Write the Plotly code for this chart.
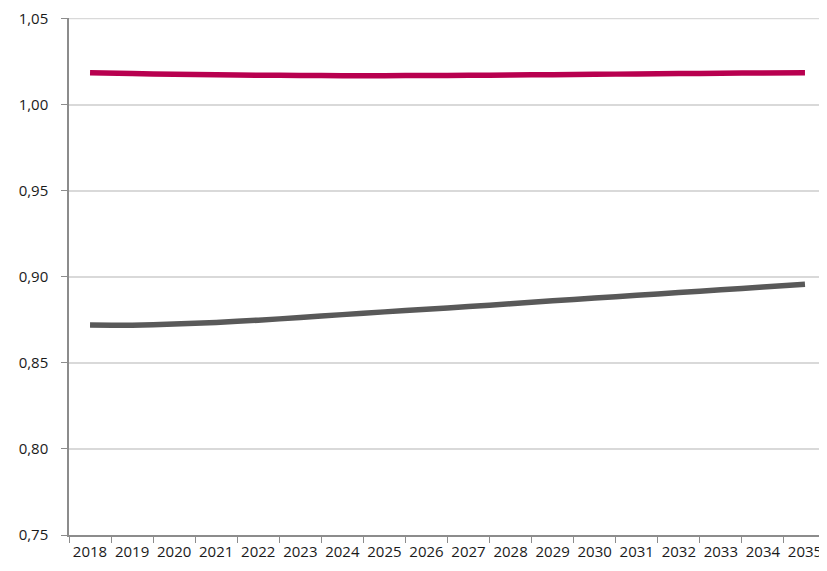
import plotly.graph_objects as go

years = [str(y) for y in range(2018, 2036)]
red_series = [1.0185, 1.018, 1.0176, 1.0173, 1.0171, 1.0169, 1.0168, 1.0168, 1.0169,
              1.017, 1.0172, 1.0174, 1.0176, 1.0178, 1.018, 1.0182, 1.0184, 1.0185]
gray_series = [0.872, 0.8719, 0.8725, 0.8735, 0.8748, 0.8763, 0.878, 0.8796, 0.8811,
               0.8827, 0.8843, 0.886, 0.8876, 0.8892, 0.8908, 0.8924, 0.894, 0.8956]
y_ticks = [0.75, 0.80, 0.85, 0.90, 0.95, 1.00, 1.05]

fig = go.Figure()
fig.add_trace(go.Scatter(x=years, y=red_series, mode="lines",
                         line=dict(color="#B8004F", width=5.5, shape="spline", smoothing=0.6),
                         showlegend=False))
fig.add_trace(go.Scatter(x=years, y=gray_series, mode="lines",
                         line=dict(color="#595959", width=5.5, shape="spline", smoothing=0.6),
                         showlegend=False))

# top gridline at the upper range limit
fig.add_shape(type="line", xref="paper", x0=0, x1=1, yref="y", y0=y_ticks[-1], y1=y_ticks[-1],
              line=dict(color="#d9d9d9", width=1.5), layer="below")

fig.update_layout(
    width=819, height=563,
    margin=dict(l=61, r=1, t=10, b=36),
    paper_bgcolor="white", plot_bgcolor="white",
    separators=",.",
    font=dict(family="Open Sans, Segoe UI, sans-serif", size=15, color="#1a1a1a"),
    xaxis=dict(type="category", range=[-0.5, 17.5], showgrid=False, automargin=False,
               showline=True, linecolor="#8c8c8c", linewidth=1.5, tickangle=0,
               ticks="outside", tickson="boundaries", ticklen=6, tickcolor="#8c8c8c",
               ticklabelstandoff=2, tickfont=dict(size=15)),
    yaxis=dict(range=[0.75, 1.0503], tickvals=y_ticks, tickformat=".2f", automargin=False,
               showgrid=True, gridcolor="#d9d9d9", gridwidth=1.5,
               showline=True, linecolor="#8c8c8c", linewidth=1.5,
               ticks="outside", ticklen=6, tickcolor="#8c8c8c", ticklabelstandoff=10,
               ticklabeloverflow="allow",
               zeroline=False, tickfont=dict(size=15)),
)

fig.write_html("out.html")
